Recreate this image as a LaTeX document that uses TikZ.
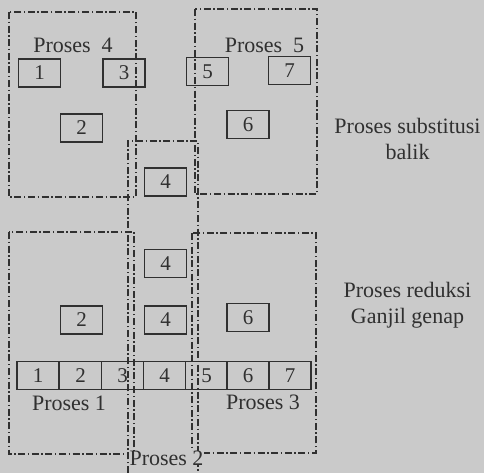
\documentclass[tikz,border=0pt]{standalone}
\usepackage{fontspec}
\setmainfont{Liberation Serif}
\begin{document}
\begin{tikzpicture}[x=1pt,y=-1pt,
  regionbox/.style={draw=inkc,line width=1.3pt,
    dash pattern=on 7pt off 2.6pt on 1.4pt off 2.6pt},
  cellbox/.style={draw=inkc,line width=1.1pt,minimum width=42pt,minimum height=28pt,
    inner sep=0pt,text=inkc,font=\fontsize{21}{24}\selectfont},
  lbl/.style={text=inkc,inner sep=0pt,font=\fontsize{22}{26}\selectfont},
  side/.style={text=inkc,inner sep=0pt,align=center,font=\fontsize{22}{26}\selectfont}]
\definecolor{inkc}{HTML}{303030}
\definecolor{paper}{HTML}{CACACA}
\fill[paper] (0,0) rectangle (484,473);
\useasboundingbox (0,0) rectangle (484,473);

% dash-dot process regions
\draw[regionbox] (9,12) rectangle (136,197);      % Proses 4
\draw[regionbox] (195,9) rectangle (317,194);     % Proses 5
\draw[regionbox] (9,232) rectangle (134,454);     % Proses 1
\draw[regionbox] (192,233) rectangle (316,453);   % Proses 3
% Proses 2: middle column, open at the bottom
\draw[regionbox] (128,473) -- (128,141) -- (198,141) -- (198,473);

% back-substitution half
\node[cellbox] (u1) at (39.5,73) {1};
\node[cellbox] (u3) at (124,73) {3};
\node[cellbox] (u5) at (207.5,71.5) {5};
\node[cellbox] (u7) at (289.5,70.5) {7};
\node[cellbox] (u2) at (81.5,128) {2};
\node[cellbox] (u6) at (248,124.5) {6};
\node[cellbox] (u4) at (165.5,182) {4};

% reduction half
\node[cellbox] (r4a) at (165.5,263.5) {4};
\node[cellbox] (r2) at (81.5,320) {2};
\node[cellbox] (r4b) at (165.5,320) {4};
\node[cellbox] (r6) at (248,317.5) {6};

% full row of unknowns
\foreach \i/\x in {1/38,2/80.5,3/122.5,4/164.5,5/206.5,6/248,7/290}
  \node[cellbox,minimum width=42pt] (row\i) at (\x,375.5) {\i};

% region labels
\node[lbl] (p4) at (73,45) {Proses\ \ 4};
\node[lbl] (p5) at (264.5,45) {Proses\ \ 5};
\node[lbl] (p1) at (69,403) {Proses 1};
\node[lbl] (p3) at (263,402) {Proses 3};
\node[lbl,fill=paper,inner xsep=1pt] (p2) at (166.5,458) {Proses 2};

% side captions
\node[side] (cap1) at (407.5,139) {Proses substitusi\\balik};
\node[side] (cap2) at (407.5,305.5) {Proses reduksi\\Ganjil genap};
\end{tikzpicture}
\end{document}
